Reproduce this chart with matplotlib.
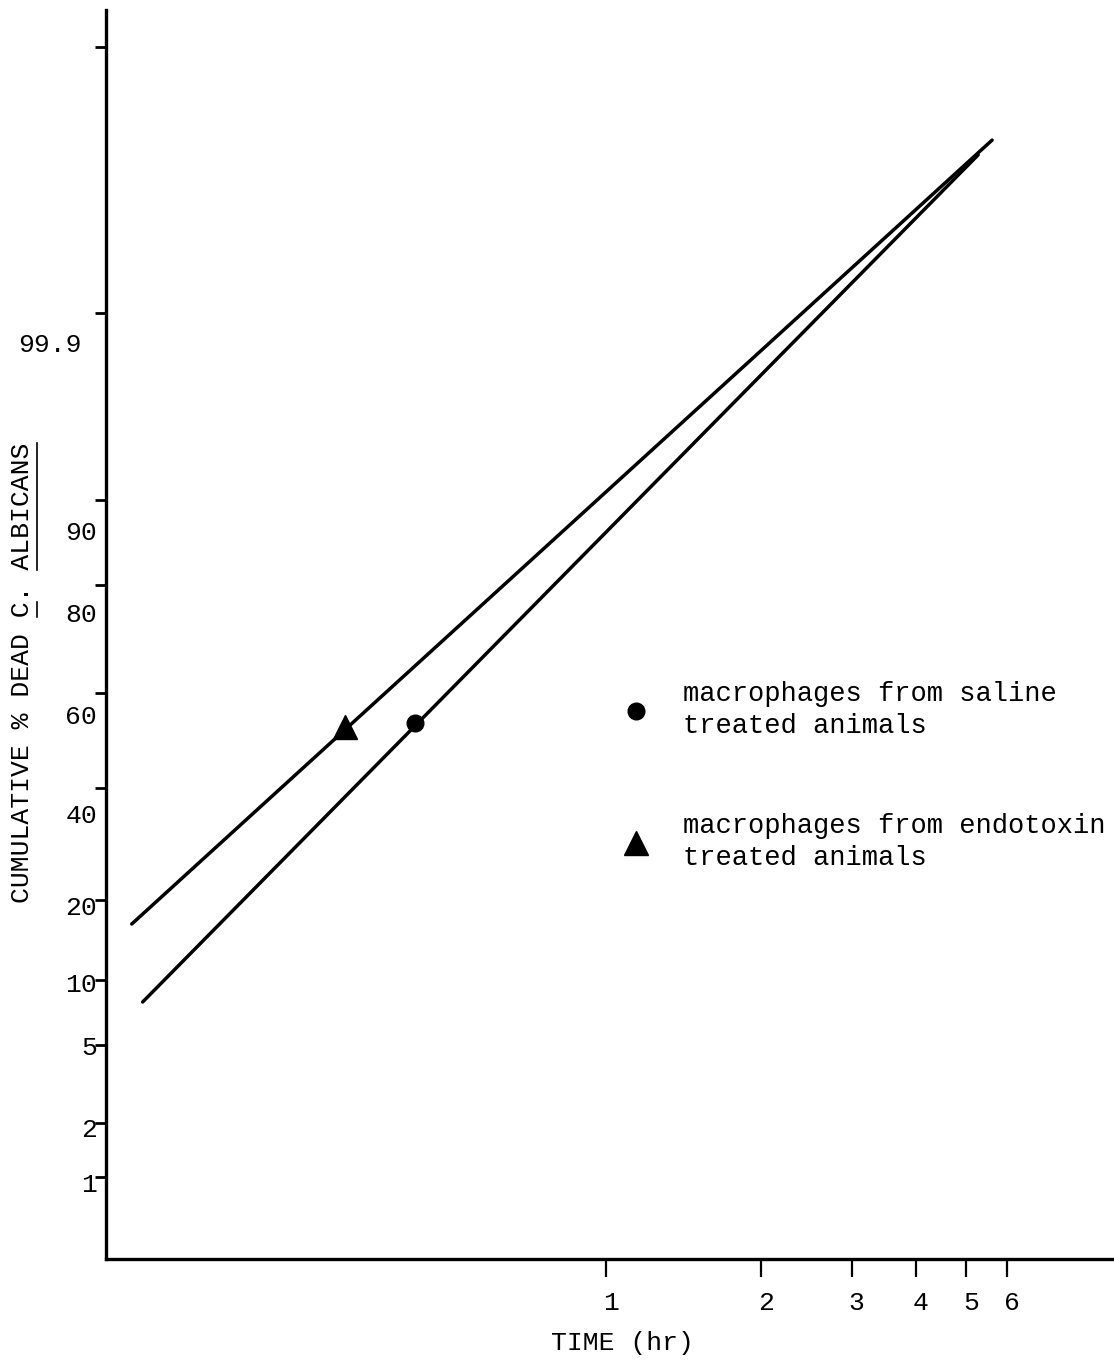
import numpy as np
import matplotlib
matplotlib.use('Agg')
import matplotlib.pyplot as plt
import matplotlib.transforms as mtransforms
from matplotlib.ticker import NullLocator
from matplotlib.lines import Line2D

plt.rcParams['font.family'] = ['Liberation Mono', 'DejaVu Sans Mono']

# probability axis as ruled on the original sheet (top tick is unlabelled)
pct_ticks = [1, 2, 5, 10, 20, 40, 60, 80, 90, 99.9, 99.99]
pct_labels = ['1', '2', '5', '10', '20', '40', '60', '80', '90', '99.9', '']
# where each of those ticks sits (pixel row of the 1360 px high figure)
tick_px = [1177, 1123, 1045, 980, 900, 788, 693, 585, 500, 313, 47]
# hand-typed labels sit a bit off their ticks
lab_dx = [-9, -9, -9, -9, -9, -9, -9, -9, -9, -24, 0]
lab_dy = [8, 7, 3, 5, 8, 28, 24, 30, 33, 32, 0]

time_ticks = [1, 2, 3, 4, 5, 6]
time_labels = ['1', '2', '3', '4', '5', '6']

# fitted lines (time in hr, cumulative % dead)
endo_time = [0.120, 5.62]
endo_pct = [17.0, 99.9585]
saline_time = [0.126, 5.28]
saline_pct = [8.31, 99.9535]

# measured points
endo_pt_time = [0.311]
endo_pt_pct = [52.8]
saline_pt_time = [0.426]
saline_pt_pct = [53.7]

W, H = 1114, 1360
AX_L, AX_B, AX_T = 106, 1259, 10   # pixel edges of the axes

U_TICKS = (AX_B - np.array(tick_px, float)) / (AX_B - AX_T)
P_TICKS = np.array(pct_ticks, float)


def _interp(v, xs, ys):
    """piecewise linear, extrapolated with the end segments"""
    v = np.asarray(v, dtype=float)
    out = np.interp(v, xs, ys)
    lo_slope = (ys[1] - ys[0]) / (xs[1] - xs[0])
    hi_slope = (ys[-1] - ys[-2]) / (xs[-1] - xs[-2])
    out = np.where(v < xs[0], ys[0] + (v - xs[0]) * lo_slope, out)
    out = np.where(v > xs[-1], ys[-1] + (v - xs[-1]) * hi_slope, out)
    return out


def fwd(p):
    return _interp(p, P_TICKS, U_TICKS)


def inv(u):
    return _interp(u, U_TICKS, P_TICKS)


fig = plt.figure(figsize=(W / 100, H / 100), dpi=100)
ax = fig.add_axes([AX_L / W, (H - AX_B) / H, (W - AX_L) / W, (AX_B - AX_T) / H])

ax.set_xscale('log')
ax.set_yscale('function', functions=(fwd, inv))
ax.set_xlim(10 ** ((AX_L - 606) / 515), 10 ** ((W - 606) / 515))
ax.set_ylim(float(inv(0.0)), float(inv(1.0)))

# lines and points
ax.plot(endo_time, endo_pct, color='black', lw=2.5, solid_capstyle='round')
ax.plot(saline_time, saline_pct, color='black', lw=2.5, solid_capstyle='round')
ax.plot(endo_pt_time, endo_pt_pct, ls='none', marker='^', ms=17, color='black', zorder=5)
ax.plot(saline_pt_time, saline_pt_pct, ls='none', marker='o', ms=12, color='black', zorder=5)

# axes cosmetics
for s in ['top', 'right']:
    ax.spines[s].set_visible(False)
for s in ['left', 'bottom']:
    ax.spines[s].set_linewidth(2.4)

ax.set_xticks(time_ticks)
ax.set_xticklabels(time_labels)
ax.xaxis.set_minor_locator(NullLocator())
ax.tick_params(axis='x', direction='out', length=13, width=1.6, pad=10, labelsize=19)
shift = mtransforms.ScaledTranslation(5 / 100, 0, fig.dpi_scale_trans)
for lbl in ax.get_xticklabels():
    lbl.set_transform(lbl.get_transform() + shift)

ax.set_yticks(pct_ticks)
ax.set_yticklabels([''] * len(pct_ticks))
ax.yaxis.set_minor_locator(NullLocator())
ax.tick_params(axis='y', direction='out', length=8, width=2)

for v, lbl, dx, dy in zip(pct_ticks, pct_labels, lab_dx, lab_dy):
    if lbl:
        ax.annotate(lbl, xy=(0, v), xycoords=('axes fraction', 'data'),
                    xytext=(dx, -dy), textcoords='offset pixels',
                    ha='right', va='center', fontsize=19)

ax.set_xlabel('TIME (hr)', fontsize=19)
ax.xaxis.set_label_coords((622 - AX_L) / (W - AX_L), -(1343 - AX_B) / (AX_B - AX_T))
ax.xaxis.label.set_va('center')

# y title, with the organism name underlined
ylab = 'CUMULATIVE % DEAD C. ALBICANS'
yt = fig.text(22 / W, 1 - 673 / H, ylab, rotation=90, ha='center', va='center', fontsize=19)
renderer = fig.canvas.get_renderer()
bb = yt.get_window_extent(renderer)
pitch = bb.height / len(ylab)
ux = bb.x1 + 3
for i0, i1 in [(18, 19), (21, 29)]:
    y0 = bb.y0 + i0 * pitch
    y1 = bb.y0 + i1 * pitch
    fig.add_artist(Line2D([ux / W, ux / W], [y0 / H, y1 / H], color='black', lw=1.2,
                          transform=fig.transFigure))

# legend
handles = [
    Line2D([], [], ls='none', marker='o', ms=12, color='black'),
    Line2D([], [], ls='none', marker='^', ms=17, color='black'),
]
labels = ['macrophages from saline\ntreated animals',
          'macrophages from endotoxin\ntreated animals']
leg = fig.legend(handles, labels, loc='upper left', bbox_to_anchor=(622 / W, 1 - 681 / H),
                 bbox_transform=fig.transFigure, frameon=False, fontsize=19.5,
                 handlelength=1.0, handletextpad=1.25, labelspacing=2.75,
                 borderpad=0, borderaxespad=0)
for t in leg.get_texts():
    t.set_linespacing(1.3)

fig.savefig('out.png', dpi=100)
